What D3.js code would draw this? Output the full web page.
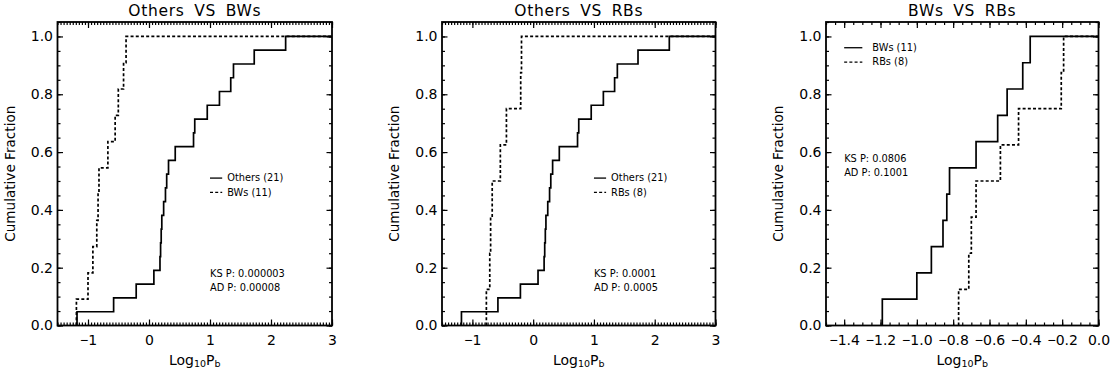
<!DOCTYPE html>
<html>
<head>
<meta charset="utf-8">
<script src="https://cdn.jsdelivr.net/npm/d3@7"></script>
<style>
  html, body { margin: 0; padding: 0; background: #fff; }
  svg { display: block; }
  text { font-family: "DejaVu Sans", sans-serif; fill: #000; }
</style>
</head>
<body>
<svg id="chart" width="1119" height="380"></svg>
<script>
// ---------------- data ----------------
const othersPb = [-1.18, -0.58, -0.21, 0.08, 0.18, 0.19, 0.20, 0.21, 0.24, 0.27, 0.29, 0.32, 0.43, 0.73, 0.75, 0.955, 1.155, 1.34, 1.385, 1.725, 2.24];
const bwsPb    = [-1.19, -1.00, -0.92, -0.856, -0.835, -0.82, -0.674, -0.555, -0.503, -0.417, -0.376];
const rbsPb    = [-0.77, -0.714, -0.70, -0.674, -0.54, -0.44, -0.205, -0.192];

const panelTitles  = ["Others VS BWs", "Others VS RBs", "BWs VS RBs"];
const legendLabels = [["Others (21)", "BWs (11)"], ["Others (21)", "RBs (8)"], ["BWs (11)", "RBs (8)"]];
const ksLabels     = ["KS P: 0.000003", "KS P: 0.0001", "KS P: 0.0806"];
const adLabels     = ["AD P: 0.00008", "AD P: 0.0005", "AD P: 0.1001"];

const xTicksWide      = [-1, 0, 1, 2, 3];
const xTickLabelsWide = ["−1", "0", "1", "2", "3"];
const xTicksNarrow      = [-1.4, -1.2, -1.0, -0.8, -0.6, -0.4, -0.2, 0.0];
const xTickLabelsNarrow = ["−1.4", "−1.2", "−1.0", "−0.8", "−0.6", "−0.4", "−0.2", "0.0"];
const yTicks      = [0, 0.2, 0.4, 0.6, 0.8, 1.0];
const yTickLabels = ["0.0", "0.2", "0.4", "0.6", "0.8", "1.0"];

// ---------------- layout ----------------
const svg = d3.select("#chart");
const plotTop = 22, plotBottom = 325.5;

const panels = [
  { left: 57.5, right: 332, xDomain: [-1.5, 3], xTicks: xTicksWide, xLabels: xTickLabelsWide, xMinorStep: 0.05,
    series: [othersPb, bwsPb], legend: { x: 1.0, y: 0.51, len: 0.2, gap: 5 }, stats: { x: 1.0, y: 0.2 } },
  { left: 442, right: 715.5, xDomain: [-1.5, 3], xTicks: xTicksWide, xLabels: xTickLabelsWide, xMinorStep: 0.05,
    series: [othersPb, rbsPb], legend: { x: 1.0, y: 0.51, len: 0.2, gap: 5 }, stats: { x: 1.0, y: 0.2 } },
  { left: 826, right: 1098.5, xDomain: [-1.5, 0], xTicks: xTicksNarrow, xLabels: xTickLabelsNarrow, xMinorStep: 0.05,
    series: [bwsPb, rbsPb], legend: { x: -1.4, y: 0.961, len: 0.1, gap: 10 }, stats: { x: -1.4, y: 0.6 } }
];
const dashes = [null, "3,2.2"];

function minorTicks(domain, step) {
  const out = [];
  const n0 = Math.ceil(domain[0] / step - 1e-9), n1 = Math.floor(domain[1] / step + 1e-9);
  for (let i = n0; i <= n1; i++) out.push(+(i * step).toFixed(6));
  return out;
}

function fixMinus(sel) {
  sel.each(function () {
    const t = d3.select(this);
    const s = t.text();
    if (s.startsWith("−")) {
      t.text("");
      t.append("tspan").style("font-family", "Liberation Sans").text("−");
      t.append("tspan").text(s.slice(1));
    }
  });
}

panels.forEach((p, pi) => {
  const x = d3.scaleLinear().domain(p.xDomain).range([p.left, p.right]);
  const y = d3.scaleLinear().domain([0, 1.05]).range([plotBottom, plotTop]);
  const g = svg.append("g");

  // curves
  p.series.forEach((vals, si) => {
    const n = vals.length;
    const pts = [[vals[0], 0]];
    vals.forEach((v, i) => pts.push([v, (i + 1) / n]));
    pts.push([p.xDomain[1], 1]);
    const line = d3.line().x(d => x(d[0])).y(d => y(d[1])).curve(d3.curveStepAfter);
    g.append("path").attr("d", line(pts)).attr("fill", "none").attr("stroke", "#000")
      .attr("stroke-width", 1.7).attr("stroke-dasharray", dashes[si]);
  });

  // axes (ticks inward on all four sides)
  const xMinor = minorTicks(p.xDomain, p.xMinorStep);
  const yMinor = minorTicks([0, 1.05], 0.05);
  const fmtX = d => p.xLabels[p.xTicks.findIndex(t => Math.abs(t - d) < 1e-9)];
  const fmtY = d => yTickLabels[yTicks.findIndex(t => Math.abs(t - d) < 1e-9)];

  const addAxis = (axis, tx, ty) => {
    const a = g.append("g").attr("transform", `translate(${tx},${ty})`).call(axis);
    a.select(".domain").remove();
    a.selectAll("line").attr("stroke", "#000").attr("stroke-width", 1.2);
    return a;
  };
  addAxis(d3.axisBottom(x).tickValues(xMinor).tickSize(-3).tickFormat(""), 0, plotBottom);
  addAxis(d3.axisTop(x).tickValues(xMinor).tickSize(-3).tickFormat(""), 0, plotTop);
  addAxis(d3.axisLeft(y).tickValues(yMinor).tickSize(-3).tickFormat(""), p.left, 0);
  addAxis(d3.axisRight(y).tickValues(yMinor).tickSize(-3).tickFormat(""), p.right, 0);

  const xb = addAxis(d3.axisBottom(x).tickValues(p.xTicks).tickSize(-6).tickPadding(12).tickFormat(fmtX), 0, plotBottom);
  xb.selectAll("text").style("font-size", "14px").attr("dy", "0.71em").attr("y", 9.5);
  fixMinus(xb.selectAll("text"));
  addAxis(d3.axisTop(x).tickValues(p.xTicks).tickSize(-6).tickFormat(""), 0, plotTop);
  const yl = addAxis(d3.axisLeft(y).tickValues(yTicks).tickSize(-5.5).tickPadding(10).tickFormat(fmtY), p.left, 0);
  yl.selectAll("text").style("font-size", "14px").attr("x", -4.5);
  addAxis(d3.axisRight(y).tickValues(yTicks).tickSize(-5.5).tickFormat(""), p.right, 0);
  svg.selectAll(".tick text").attr("fill", "#000");

  // frame
  g.append("rect").attr("x", p.left).attr("y", plotTop).attr("width", p.right - p.left).attr("height", plotBottom - plotTop)
    .attr("fill", "none").attr("stroke", "#000").attr("stroke-width", 1.8);

  const cx = (p.left + p.right) / 2;
  // title
  g.append("text").attr("x", cx).attr("y", 15.5).attr("text-anchor", "middle")
    .style("font-size", "15.5px").style("word-spacing", "4px").style("letter-spacing", "0.7px")
    .text(panelTitles[pi]);
  // x label
  const xt = g.append("text").attr("x", cx).attr("y", 364.5).attr("text-anchor", "middle").style("font-size", "14px");
  xt.append("tspan").text("Log");
  xt.append("tspan").attr("dy", 2.5).style("font-size", "9.5px").text("10");
  xt.append("tspan").attr("dy", -2.5).text("P");
  xt.append("tspan").attr("dy", 2.5).style("font-size", "9.5px").text("b");
  // y label
  g.append("text").attr("transform", `translate(${p.left - 43},${(plotTop + plotBottom) / 2}) rotate(-90)`)
    .attr("text-anchor", "middle").style("font-size", "13.6px").text("Cumulative Fraction");

  // legend
  const L = p.legend;
  legendLabels[pi].forEach((lab, li) => {
    const ly = y(L.y) + li * 14.3;
    g.append("line").attr("x1", x(L.x)).attr("x2", x(L.x + L.len)).attr("y1", ly).attr("y2", ly)
      .attr("stroke", "#000").attr("stroke-width", 1.3).attr("stroke-dasharray", dashes[li]);
    g.append("text").attr("x", x(L.x + L.len) + L.gap).attr("y", ly + 3.4).style("font-size", "9.8px").text(lab);
  });
  // statistics
  const S = p.stats;
  g.append("text").attr("x", x(S.x)).attr("y", y(S.y) + 9.5).style("font-size", "9.8px").text(ksLabels[pi]);
  g.append("text").attr("x", x(S.x)).attr("y", y(S.y) + 23.5).style("font-size", "9.8px").text(adLabels[pi]);
});
</script>
</body>
</html>
